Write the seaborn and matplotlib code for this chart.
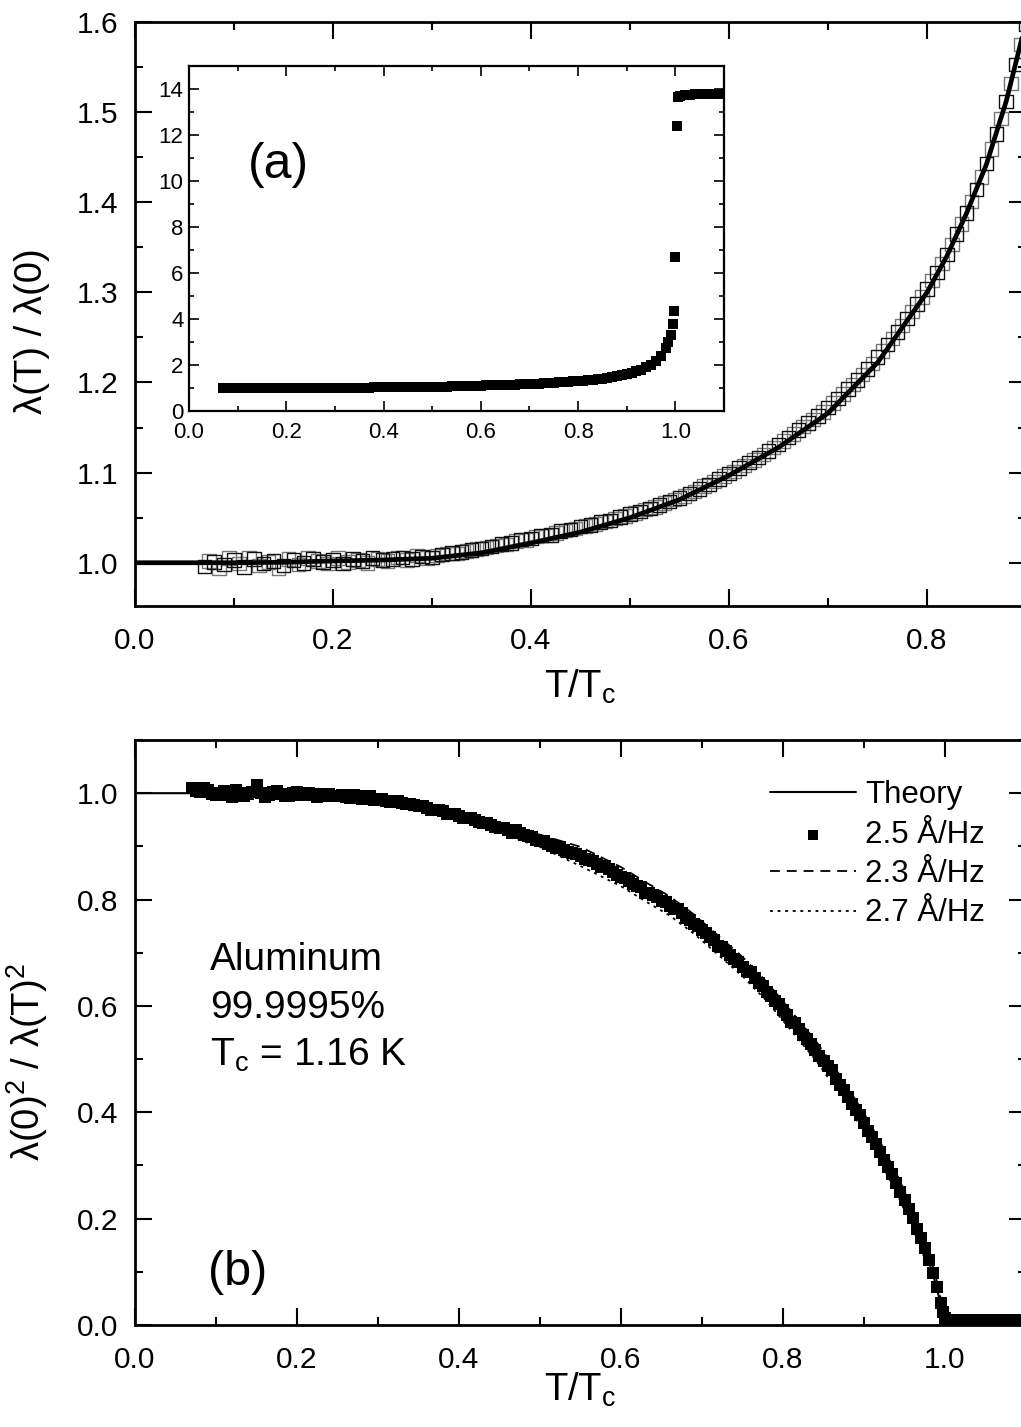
import matplotlib
matplotlib.use("Agg")
import matplotlib.pyplot as plt
import seaborn as sns
from matplotlib.ticker import MultipleLocator

# ---------------- panel (a): lambda(T)/lambda(0) ----------------
t_run_a = [0.07, 0.08, 0.09, 0.10, 0.11, 0.12, 0.13, 0.14, 0.15, 0.16, 0.17, 0.18,
           0.19, 0.20, 0.21, 0.22, 0.23, 0.24, 0.25, 0.26, 0.27, 0.28, 0.29, 0.30,
           0.31, 0.32, 0.33, 0.34, 0.35, 0.36, 0.37, 0.38, 0.39, 0.40, 0.41, 0.42,
           0.43, 0.44, 0.45, 0.46, 0.47, 0.48, 0.49, 0.50, 0.51, 0.52, 0.53, 0.54,
           0.55, 0.56, 0.57, 0.58, 0.59, 0.60, 0.61, 0.62, 0.63, 0.64, 0.65, 0.66,
           0.67, 0.68, 0.69, 0.70, 0.71, 0.72, 0.73, 0.74, 0.75, 0.76, 0.77, 0.78,
           0.79, 0.80, 0.81, 0.82, 0.83, 0.84, 0.85, 0.86, 0.87, 0.88, 0.89, 0.90]
lam_run_a = [0.996, 1.001, 0.998, 1.003, 0.995, 1.004, 0.999, 1.002, 0.997, 1.003, 1.000, 1.004,
             1.001, 1.003, 0.999, 1.004, 1.002, 1.005, 1.003, 1.004, 1.006, 1.004, 1.007, 1.006,
             1.009, 1.011, 1.012, 1.014, 1.016, 1.018, 1.021, 1.022, 1.026, 1.027, 1.030, 1.031,
             1.035, 1.037, 1.040, 1.042, 1.045, 1.047, 1.051, 1.054, 1.057, 1.060, 1.064, 1.068,
             1.072, 1.077, 1.082, 1.087, 1.093, 1.099, 1.105, 1.111, 1.117, 1.124, 1.131, 1.139,
             1.147, 1.155, 1.163, 1.172, 1.182, 1.193, 1.203, 1.215, 1.228, 1.242, 1.256, 1.271,
             1.287, 1.304, 1.322, 1.342, 1.365, 1.388, 1.414, 1.443, 1.476, 1.512, 1.553, 1.598]

t_run_b = [0.075, 0.085, 0.095, 0.105, 0.115, 0.125, 0.135, 0.145, 0.155, 0.165, 0.175, 0.185,
           0.195, 0.205, 0.215, 0.225, 0.235, 0.245, 0.255, 0.265, 0.275, 0.285, 0.295, 0.305,
           0.315, 0.325, 0.335, 0.345, 0.355, 0.365, 0.375, 0.385, 0.395, 0.405, 0.415, 0.425,
           0.435, 0.445, 0.455, 0.465, 0.475, 0.485, 0.495, 0.505, 0.515, 0.525, 0.535, 0.545,
           0.555, 0.565, 0.575, 0.585, 0.595, 0.605, 0.615, 0.625, 0.635, 0.645, 0.655, 0.665,
           0.675, 0.685, 0.695, 0.705, 0.715, 0.725, 0.735, 0.745, 0.755, 0.765, 0.775, 0.785,
           0.795, 0.805, 0.815, 0.825, 0.835, 0.845, 0.855, 0.865, 0.875, 0.885, 0.895]
lam_run_b = [1.002, 0.994, 1.005, 0.999, 1.006, 0.997, 1.001, 0.994, 1.004, 0.998, 1.005, 1.002,
             0.999, 1.005, 1.001, 1.003, 1.000, 1.004, 1.002, 1.006, 1.003, 1.008, 1.005, 1.008,
             1.010, 1.010, 1.013, 1.015, 1.017, 1.019, 1.020, 1.024, 1.025, 1.029, 1.030, 1.033,
             1.036, 1.038, 1.041, 1.043, 1.046, 1.049, 1.052, 1.055, 1.059, 1.062, 1.066, 1.070,
             1.074, 1.079, 1.085, 1.090, 1.096, 1.101, 1.108, 1.114, 1.120, 1.128, 1.135, 1.143,
             1.151, 1.159, 1.167, 1.177, 1.187, 1.198, 1.209, 1.221, 1.235, 1.249, 1.263, 1.279,
             1.295, 1.313, 1.332, 1.353, 1.376, 1.401, 1.428, 1.459, 1.493, 1.532, 1.575]

t_theory_a = [0.00, 0.05, 0.10, 0.15, 0.20, 0.25, 0.30, 0.35, 0.40, 0.45, 0.50,
              0.55, 0.60, 0.65, 0.70, 0.75, 0.80, 0.82, 0.84, 0.86, 0.88, 0.90]
lam_theory = [1.000, 1.000, 1.000, 1.0005, 1.002, 1.003, 1.005, 1.011, 1.022, 1.034, 1.050,
              1.070, 1.097, 1.128, 1.166, 1.222, 1.300, 1.340, 1.388, 1.442, 1.512, 1.600]

# ---------------- shared temperature grid (inset and panel b) ----------------
t_grid = [0.07, 0.08, 0.09, 0.10, 0.11, 0.12, 0.13, 0.14, 0.15, 0.16, 0.17, 0.18,
          0.19, 0.20, 0.21, 0.22, 0.23, 0.24, 0.25, 0.26, 0.27, 0.28, 0.29,
          0.30, 0.31, 0.32, 0.33, 0.34, 0.35, 0.36, 0.37, 0.38, 0.39,
          0.40, 0.41, 0.42, 0.43, 0.44, 0.45, 0.46, 0.47, 0.48, 0.49,
          0.50, 0.51, 0.52, 0.53, 0.54, 0.55, 0.56, 0.57, 0.58, 0.59,
          0.60, 0.61, 0.62, 0.63, 0.64, 0.65, 0.66, 0.67, 0.68, 0.69,
          0.70, 0.71, 0.72, 0.73, 0.74, 0.75, 0.76, 0.77, 0.78, 0.79,
          0.80, 0.81, 0.82, 0.83, 0.84, 0.85, 0.86, 0.87, 0.88, 0.89,
          0.90, 0.91, 0.92, 0.93, 0.94, 0.95, 0.96, 0.97, 0.98,
          0.985, 0.99, 0.995, 0.998, 1.000, 1.003, 1.006,
          1.01, 1.02, 1.03, 1.04, 1.05, 1.06, 1.07, 1.08, 1.09, 1.10]

# inset: full range including the normal state above Tc
lam_inset = [1.00, 1.00, 1.00, 1.00, 1.00, 1.00, 1.00, 1.00, 1.00, 1.00, 1.00, 1.00,
             1.00, 1.00, 1.00, 1.00, 1.00, 1.00, 1.00, 1.00, 1.00, 1.00, 1.00,
             1.01, 1.01, 1.01, 1.01, 1.02, 1.02, 1.02, 1.02, 1.03, 1.03,
             1.03, 1.03, 1.03, 1.04, 1.04, 1.04, 1.04, 1.05, 1.05, 1.05,
             1.05, 1.06, 1.06, 1.06, 1.07, 1.07, 1.08, 1.08, 1.09, 1.09,
             1.10, 1.11, 1.11, 1.12, 1.12, 1.13, 1.14, 1.15, 1.16, 1.17,
             1.17, 1.18, 1.19, 1.20, 1.22, 1.23, 1.24, 1.26, 1.27, 1.29,
             1.30, 1.32, 1.34, 1.36, 1.39, 1.41, 1.44, 1.47, 1.51, 1.55,
             1.60, 1.65, 1.72, 1.80, 1.90, 2.02, 2.18, 2.40, 2.75,
             3.00, 3.30, 3.80, 4.35, 6.70, 12.40, 13.65,
             13.70, 13.75, 13.75, 13.78, 13.78, 13.80, 13.80, 13.80, 13.80, 13.80]

# ---------------- panel (b): superfluid density ----------------
rho_25 = [1.010, 1.002, 1.006, 0.996, 1.004, 0.993, 1.001, 0.998, 1.016, 0.992, 1.003, 0.999,
          0.995, 1.002, 0.996, 0.999, 0.994, 0.998, 0.995, 0.992, 0.996, 0.990, 0.994,
          0.989, 0.986, 0.985, 0.981, 0.980, 0.976, 0.973, 0.968, 0.966, 0.960,
          0.958, 0.953, 0.950, 0.944, 0.941, 0.935, 0.931, 0.930, 0.921, 0.917,
          0.911, 0.905, 0.896, 0.893, 0.887, 0.881, 0.874, 0.867, 0.864, 0.852,
          0.843, 0.835, 0.826, 0.812, 0.808, 0.798, 0.788, 0.783, 0.766, 0.754,
          0.742, 0.730, 0.712, 0.703, 0.689, 0.674, 0.664, 0.643, 0.627, 0.610,
          0.593, 0.570, 0.556, 0.537, 0.517, 0.496, 0.480, 0.452, 0.429, 0.405,
          0.380, 0.353, 0.326, 0.297, 0.267, 0.235, 0.201, 0.164, 0.123,
          0.098, 0.072, 0.042, 0.024, 0.014, 0.009, 0.009,
          0.009, 0.008, 0.010, 0.008, 0.009, 0.008, 0.010, 0.009, 0.008, 0.009]

# intermediate readings of the same 2.5 Å/Hz sweep
t_mid = [0.075, 0.085, 0.095, 0.105, 0.115, 0.125, 0.135, 0.145, 0.155, 0.165,
         0.175, 0.185, 0.195, 0.205, 0.215, 0.225, 0.235, 0.245, 0.255, 0.265,
         0.275, 0.285, 0.295, 0.305, 0.315, 0.325, 0.335, 0.345, 0.355, 0.365,
         0.375, 0.385, 0.395, 0.405, 0.415, 0.425, 0.435, 0.445, 0.455, 0.465,
         0.475, 0.485, 0.495, 0.505, 0.515, 0.525, 0.535, 0.545, 0.555, 0.565,
         0.575, 0.585, 0.595, 0.605, 0.615, 0.625, 0.635, 0.645, 0.655, 0.665,
         0.675, 0.685, 0.695, 0.705, 0.715, 0.725, 0.735, 0.745, 0.755, 0.765,
         0.775, 0.785, 0.795, 0.805, 0.815, 0.825, 0.835, 0.845, 0.855, 0.865,
         0.875, 0.885, 0.895, 0.905, 0.915, 0.925, 0.935, 0.945, 0.955, 0.965,
         0.975,
         1.015, 1.025, 1.035, 1.045, 1.055, 1.065, 1.075, 1.085, 1.095]
rho_25_mid = [1.004, 1.009, 0.999, 1.001, 0.997, 1.006, 0.995, 1.003, 1.000, 0.997,
              1.004, 0.994, 1.000, 0.997, 1.001, 0.993, 0.999, 0.994, 0.997, 0.991,
              0.995, 0.992, 0.988, 0.990, 0.983, 0.985, 0.979, 0.977, 0.976, 0.969,
              0.969, 0.961, 0.961, 0.954, 0.953, 0.945, 0.944, 0.936, 0.935, 0.926,
              0.925, 0.920, 0.912, 0.910, 0.901, 0.898, 0.889, 0.886, 0.876, 0.872,
              0.861, 0.857, 0.846, 0.841, 0.829, 0.824, 0.812, 0.804, 0.795, 0.782,
              0.774, 0.761, 0.750, 0.737, 0.724, 0.711, 0.695, 0.683, 0.666, 0.652,
              0.637, 0.618, 0.603, 0.582, 0.567, 0.545, 0.528, 0.505, 0.487, 0.463,
              0.441, 0.416, 0.394, 0.365, 0.341, 0.310, 0.283, 0.250, 0.219, 0.181,
              0.145,
              0.010, 0.008, 0.009, 0.010, 0.008, 0.009, 0.008, 0.010, 0.009]

t_theory_b = [0.00, 0.05, 0.10, 0.15, 0.20, 0.25, 0.30, 0.35, 0.40, 0.45, 0.50, 0.55, 0.60,
              0.65, 0.70, 0.75, 0.80, 0.85, 0.88, 0.90, 0.92, 0.94, 0.96, 0.98, 0.99, 1.00, 1.10]
rho_theory = [1.000, 1.000, 1.000, 0.999, 0.997, 0.993, 0.987, 0.977, 0.961, 0.939, 0.912, 0.880,
              0.843, 0.799, 0.744, 0.676, 0.595, 0.498, 0.430, 0.381, 0.326, 0.265, 0.198,
              0.120, 0.070, 0.000, 0.000]

t_cal = [0.07, 0.10, 0.13, 0.16, 0.20, 0.25, 0.30, 0.35, 0.40, 0.45, 0.50, 0.55, 0.60, 0.63,
         0.66, 0.69, 0.72, 0.75, 0.78, 0.81, 0.84, 0.87, 0.90, 0.92, 0.94, 0.96, 0.98, 0.99,
         1.00, 1.01, 1.10]
rho_23 = [1.010, 0.998, 1.003, 0.994, 1.003, 0.997, 0.992, 0.981, 0.964, 0.945, 0.922, 0.899,
          0.861, 0.833, 0.806, 0.772, 0.732, 0.692, 0.645, 0.590, 0.535, 0.470, 0.398, 0.344,
          0.285, 0.219, 0.139, 0.082, 0.015, 0.005, 0.005]
rho_27 = [1.008, 0.994, 0.999, 0.990, 0.998, 0.991, 0.984, 0.970, 0.950, 0.925, 0.899, 0.863,
          0.825, 0.797, 0.770, 0.736, 0.696, 0.656, 0.609, 0.554, 0.499, 0.434, 0.362, 0.308,
          0.249, 0.183, 0.105, 0.058, 0.010, 0.004, 0.004]

# ---------------- style ----------------
sns.set_theme(style="ticks")
plt.rcParams["font.family"] = ["Liberation Sans", "DejaVu Sans"]
plt.rcParams["mathtext.fontset"] = "custom"
plt.rcParams["mathtext.rm"] = "Liberation Sans"
plt.rcParams["mathtext.it"] = "Liberation Sans:italic"
plt.rcParams["mathtext.sf"] = "Liberation Sans"
for key in ("text.color", "axes.labelcolor", "xtick.color", "ytick.color",
            "axes.edgecolor"):
    plt.rcParams[key] = "black"

W, H = 1021, 1427
fig = plt.figure(figsize=(W / 100, H / 100), dpi=100)
fig.patch.set_facecolor("white")


def box(left, top, right, bottom):
    return [left / W, 1 - bottom / H, (right - left) / W, (bottom - top) / H]


ax_a = fig.add_axes(box(135, 22, 1026, 606))
ax_b = fig.add_axes(box(135, 740, 1026, 1325))
ax_in = fig.add_axes(box(189, 66, 724, 411))


def style_axes(ax, size, major, minor, width, spine_w, pad_x, pad_y):
    for s in ax.spines.values():
        s.set_visible(True)
        s.set_linewidth(spine_w)
        s.set_color("black")
    ax.set_facecolor("white")
    ax.grid(False)
    ax.tick_params(which="both", direction="in", top=True, right=True,
                   colors="black", labelcolor="black", width=width)
    ax.tick_params(which="major", length=major, labelsize=size)
    ax.tick_params(which="minor", length=minor)
    ax.tick_params(axis="x", which="major", pad=pad_x)
    ax.tick_params(axis="y", which="major", pad=pad_y)


# ---- panel (a)
sns.scatterplot(x=t_run_b, y=lam_run_b, marker="s", s=95, ax=ax_a, zorder=2)
ax_a.collections[-1].set_facecolor("none")
ax_a.collections[-1].set_edgecolor("#777777")
ax_a.collections[-1].set_linewidth(1.0)
sns.scatterplot(x=t_run_a, y=lam_run_a, marker="s", s=95, ax=ax_a, zorder=3)
ax_a.collections[-1].set_facecolor("none")
ax_a.collections[-1].set_edgecolor("#111111")
ax_a.collections[-1].set_linewidth(1.0)
sns.lineplot(x=t_theory_a, y=lam_theory, color="black", lw=3.4, ax=ax_a,
             estimator=None, sort=False, zorder=4)

ax_a.set_xlim(0, 0.9)
ax_a.set_ylim(0.952, 1.6)
ax_a.set_xticks([0.0, 0.2, 0.4, 0.6, 0.8])
ax_a.set_xticklabels(["0.0", "0.2", "0.4", "0.6", "0.8"])
ax_a.xaxis.set_minor_locator(MultipleLocator(0.1))
ax_a.set_yticks([1.0, 1.1, 1.2, 1.3, 1.4, 1.5, 1.6])
ax_a.set_yticklabels(["1.0", "1.1", "1.2", "1.3", "1.4", "1.5", "1.6"])
ax_a.yaxis.set_minor_locator(MultipleLocator(0.05))
style_axes(ax_a, 21.5, 12, 6, 1.5, 2.0, 15, 12)
ax_a.set_xlabel(r"T/T$_\mathrm{c}$", fontsize=27.5)
ax_a.set_ylabel("λ(T) / λ(0)", fontsize=27.5)
ax_a.xaxis.set_label_coords(0.5, -0.105)
ax_a.yaxis.set_label_coords(-0.095, 0.47)

# ---- inset
sns.scatterplot(x=t_grid, y=lam_inset, marker="s", s=50, color="black",
                edgecolor="black", linewidth=0, ax=ax_in)
ax_in.set_xlim(0, 1.1)
ax_in.set_ylim(0, 15)
ax_in.set_xticks([0.0, 0.2, 0.4, 0.6, 0.8, 1.0])
ax_in.set_xticklabels(["0.0", "0.2", "0.4", "0.6", "0.8", "1.0"])
ax_in.xaxis.set_minor_locator(MultipleLocator(0.1))
ax_in.set_yticks([0, 2, 4, 6, 8, 10, 12, 14])
ax_in.yaxis.set_minor_locator(MultipleLocator(1))
style_axes(ax_in, 16, 7, 3.5, 1.2, 1.6, 8, 4)
ax_in.set_xlabel("")
ax_in.set_ylabel("")
ax_in.text(0.110, 0.713, "(a)", transform=ax_in.transAxes, fontsize=36,
           ha="left", va="center")

# ---- panel (b)
sns.scatterplot(x=t_grid + t_mid, y=rho_25 + rho_25_mid, marker="s", s=75,
                color="black", edgecolor="black", linewidth=0, ax=ax_b,
                zorder=2, label="2.5 Å/Hz")
sns.lineplot(x=t_cal, y=rho_23, color="black", lw=1.3, ax=ax_b,
             estimator=None, sort=False, zorder=3, label="2.3 Å/Hz",
             linestyle=(0, (5.5, 3.8)))
sns.lineplot(x=t_cal, y=rho_27, color="black", lw=1.3, ax=ax_b,
             estimator=None, sort=False, zorder=3, label="2.7 Å/Hz",
             linestyle=(0, (1.6, 2.6)))
sns.lineplot(x=t_theory_b, y=rho_theory, color="black", lw=1.5, ax=ax_b,
             estimator=None, sort=False, zorder=4, label="Theory")

ax_b.set_xlim(0, 1.1)
ax_b.set_ylim(0, 1.1)
ax_b.set_xticks([0.0, 0.2, 0.4, 0.6, 0.8, 1.0])
ax_b.set_xticklabels(["0.0", "0.2", "0.4", "0.6", "0.8", "1.0"])
ax_b.xaxis.set_minor_locator(MultipleLocator(0.1))
ax_b.set_yticks([0.0, 0.2, 0.4, 0.6, 0.8, 1.0])
ax_b.set_yticklabels(["0.0", "0.2", "0.4", "0.6", "0.8", "1.0"])
ax_b.yaxis.set_minor_locator(MultipleLocator(0.1))
style_axes(ax_b, 21.5, 12, 6, 1.5, 2.0, 15, 12)
ax_b.set_xlabel(r"T/T$_\mathrm{c}$", fontsize=27.5)
ax_b.set_ylabel(r"λ(0)$^\mathrm{2}$ / λ(T)$^\mathrm{2}$", fontsize=27.5)
ax_b.xaxis.set_label_coords(0.5, -0.078)
ax_b.yaxis.set_label_coords(-0.095, 0.45)

for ypos, txt in ((0.607, "Aluminum"), (0.525, "99.9995%"),
                  (0.444, r"T$_\mathrm{c}$ = 1.16 K")):
    ax_b.text(0.084, ypos, txt, transform=ax_b.transAxes, fontsize=28,
              ha="left", va="baseline")
ax_b.text(0.082, 0.09, "(b)", transform=ax_b.transAxes, fontsize=35,
          ha="left", va="center")

handles, labels = ax_b.get_legend_handles_labels()
order = ["Theory", "2.5 Å/Hz", "2.3 Å/Hz", "2.7 Å/Hz"]
hmap = dict(zip(labels, handles))
ax_b.legend([hmap[k] for k in order], order, loc="upper left",
            bbox_to_anchor=(0.7127, 0.931), frameon=False, fontsize=22.5,
            handlelength=2.75, handletextpad=0.3, labelspacing=0.3,
            borderpad=0, borderaxespad=0, markerscale=0.8)

fig.savefig("out.png", dpi=100, facecolor="white")
